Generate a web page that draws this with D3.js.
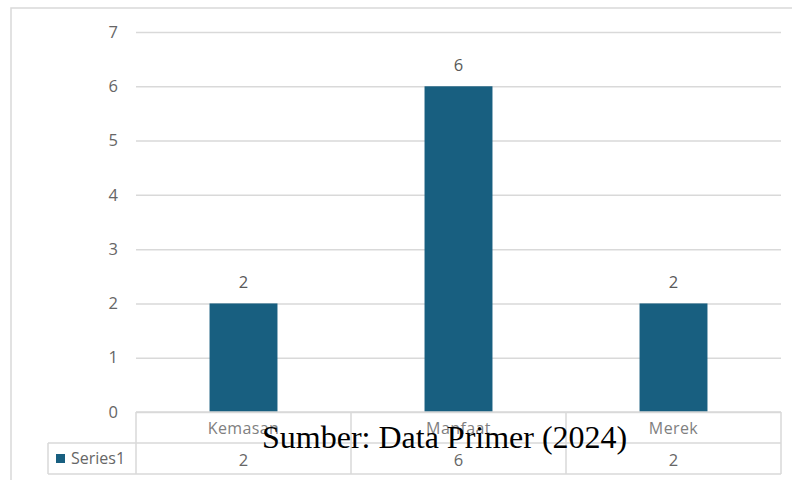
<!DOCTYPE html>
<html>
<head>
<meta charset="utf-8">
<script src="https://cdn.jsdelivr.net/npm/d3@7"></script>
<style>
  html, body { margin: 0; padding: 0; background: #fff; }
  svg { display: block; }
</style>
</head>
<body>
<svg id="chart" width="792" height="480"></svg>
<script>
// Chart data
const categories = ["Kemasan", "Manfaat", "Merek"];
const seriesName = "Series1";
const seriesValues = [2, 6, 2];
const yTicks = [0, 1, 2, 3, 4, 5, 6, 7];
const caption = "Sumber: Data Primer (2024)";

const svg = d3.select("#chart");
const W = 792, H = 480;
const plot = { left: 136, right: 781, top: 32, bottom: 412 };
const rowH = 31;
const legendLeft = 48;
const grid = "#d9d9d9";
const textCol = "#666666";
const barCol = "#185f80";
const font = "'Open Sans', sans-serif";

// Outer frame (runs off the right and bottom edges)
svg.append("path")
  .attr("d", `M11,${H + 5} V8 H${W + 5}`)
  .attr("fill", "none")
  .attr("stroke", grid)
  .attr("stroke-width", 1.5);

const x = d3.scaleBand().domain(categories).range([plot.left, plot.right]).padding(0);
const y = d3.scaleLinear().domain([0, 7]).range([plot.bottom, plot.top]);

// Value axis with gridlines
const yAxis = svg.append("g")
  .attr("transform", `translate(${plot.left},0)`)
  .call(d3.axisLeft(y).tickValues(yTicks).tickSize(-(plot.right - plot.left)).tickPadding(18).tickFormat(d3.format("d")));
yAxis.select(".domain").remove();
yAxis.selectAll(".tick line").attr("stroke", grid).attr("stroke-width", 1.5);
yAxis.selectAll(".tick text")
  .attr("fill", textCol)
  .attr("font-family", font)
  .attr("font-size", 16.5);

// Bars
const barW = x.bandwidth() * 0.316;
svg.append("g").selectAll("rect")
  .data(seriesValues)
  .join("rect")
  .attr("x", (d, i) => x(categories[i]) + (x.bandwidth() - barW) / 2)
  .attr("y", d => y(d))
  .attr("width", barW)
  .attr("height", d => y(0) - y(d))
  .attr("fill", barCol);

// Data labels above bars
svg.append("g").selectAll("text")
  .data(seriesValues)
  .join("text")
  .attr("x", (d, i) => x(categories[i]) + x.bandwidth() / 2)
  .attr("y", d => y(d) - 15)
  .attr("text-anchor", "middle")
  .attr("fill", "#595959")
  .attr("font-family", font)
  .attr("font-size", 16.5)
  .text(d => d);

// Data table beneath the axis
const t = svg.append("g").attr("stroke", grid).attr("stroke-width", 1.5).attr("fill", "none");
const r0 = plot.bottom, r1 = plot.bottom + rowH, r2 = plot.bottom + rowH * 2;
t.append("line").attr("x1", plot.left).attr("x2", plot.right).attr("y1", r0).attr("y2", r0);
t.append("line").attr("x1", legendLeft).attr("x2", plot.right).attr("y1", r1).attr("y2", r1);
t.append("line").attr("x1", legendLeft).attr("x2", plot.right).attr("y1", r2).attr("y2", r2);
t.append("line").attr("x1", legendLeft).attr("x2", legendLeft).attr("y1", r1).attr("y2", r2);
const cols = categories.map(c => x(c)).concat([plot.right]);
t.selectAll(".v").data(cols).join("line")
  .attr("x1", d => d).attr("x2", d => d).attr("y1", r0).attr("y2", r2);

// Category labels
svg.append("g").selectAll("text")
  .data(categories)
  .join("text")
  .attr("x", d => x(d) + x.bandwidth() / 2)
  .attr("y", r0 + 22)
  .attr("text-anchor", "middle")
  .attr("fill", "#7f7f7f")
  .attr("font-family", font)
  .attr("font-size", 16)
  .attr("letter-spacing", 0.4)
  .text(d => d);

// Values row
svg.append("g").selectAll("text")
  .data(seriesValues)
  .join("text")
  .attr("x", (d, i) => x(categories[i]) + x.bandwidth() / 2)
  .attr("y", r1 + 23)
  .attr("text-anchor", "middle")
  .attr("fill", textCol)
  .attr("font-family", font)
  .attr("font-size", 16.5)
  .text(d => d);

// Legend key in the table
svg.append("rect")
  .attr("x", 56).attr("y", r1 + 11).attr("width", 9).attr("height", 9)
  .attr("fill", barCol);
svg.append("text")
  .attr("x", 71).attr("y", r1 + 21)
  .attr("fill", textCol)
  .attr("font-family", font)
  .attr("font-size", 16)
  .text(seriesName);

// Source caption
svg.append("text")
  .attr("x", 262).attr("y", 448)
  .attr("fill", "#000")
  .attr("font-family", "'Liberation Serif', 'Times New Roman', serif")
  .attr("font-size", 32)
  .text(caption);
</script>
</body>
</html>
